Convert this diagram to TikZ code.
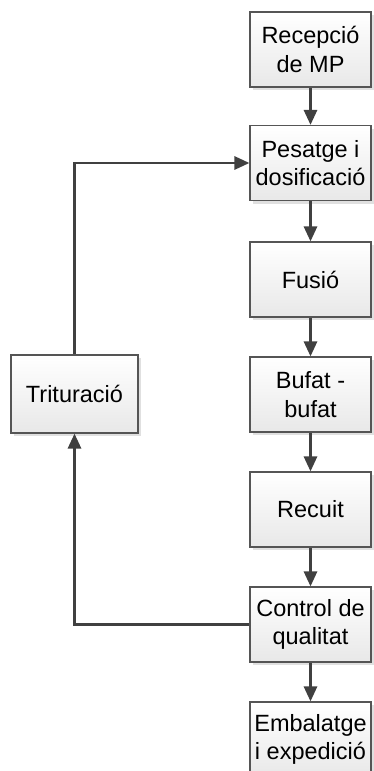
\documentclass[tikz,border=0pt]{standalone}
\usepackage{fontspec}
\setmainfont{Liberation Sans}
\usetikzlibrary{arrows.meta,shadows}
\definecolor{edge}{HTML}{555555}
\definecolor{wire}{HTML}{404040}
\tikzset{
  procbox/.style={draw=edge, line width=1.1pt, minimum width=121pt, minimum height=75pt,
    inner sep=2pt, align=center, font=\fontsize{23.5}{28.5}\selectfont,
    top color=white, bottom color=black!9,
    drop shadow={shadow xshift=3pt, shadow yshift=-3pt, fill=black!12, opacity=1}},
  flow/.style={draw=wire, line width=2.8pt, -{Triangle[length=15pt,width=13pt]}},
}
\begin{document}
\begin{tikzpicture}[x=1pt,y=-1pt]
\useasboundingbox (0,0) rectangle (373,771);
\node[procbox] (rec) at (310.5,49.5) {Recepció\\de MP};
\node[procbox] (pes) at (310.5,163) {Pesatge i\\dosificació};
\node[procbox] (fus) at (310.5,279.5) {Fusió};
\node[procbox] (buf) at (310.5,394.5) {Bufat -\\bufat};
\node[procbox] (recu) at (310.5,509.5) {Recuit};
\node[procbox] (ctl) at (310.5,624.5) {Control de\\qualitat};
\node[procbox] (emb) at (310.5,739.5) {Embalatge\\i expedició};
\node[procbox, minimum width=127pt, minimum height=78pt] (tri) at (74.5,394) {Trituració};
\draw[flow] (rec) -- (pes);
\draw[flow] (pes) -- (fus);
\draw[flow] (fus) -- (buf);
\draw[flow] (buf) -- (recu);
\draw[flow] (recu) -- (ctl);
\draw[flow] (ctl) -- (emb);
\draw[flow] (ctl.west) -| (tri.south);
\draw[flow] (tri.north) |- (pes.west);
\end{tikzpicture}
\end{document}
